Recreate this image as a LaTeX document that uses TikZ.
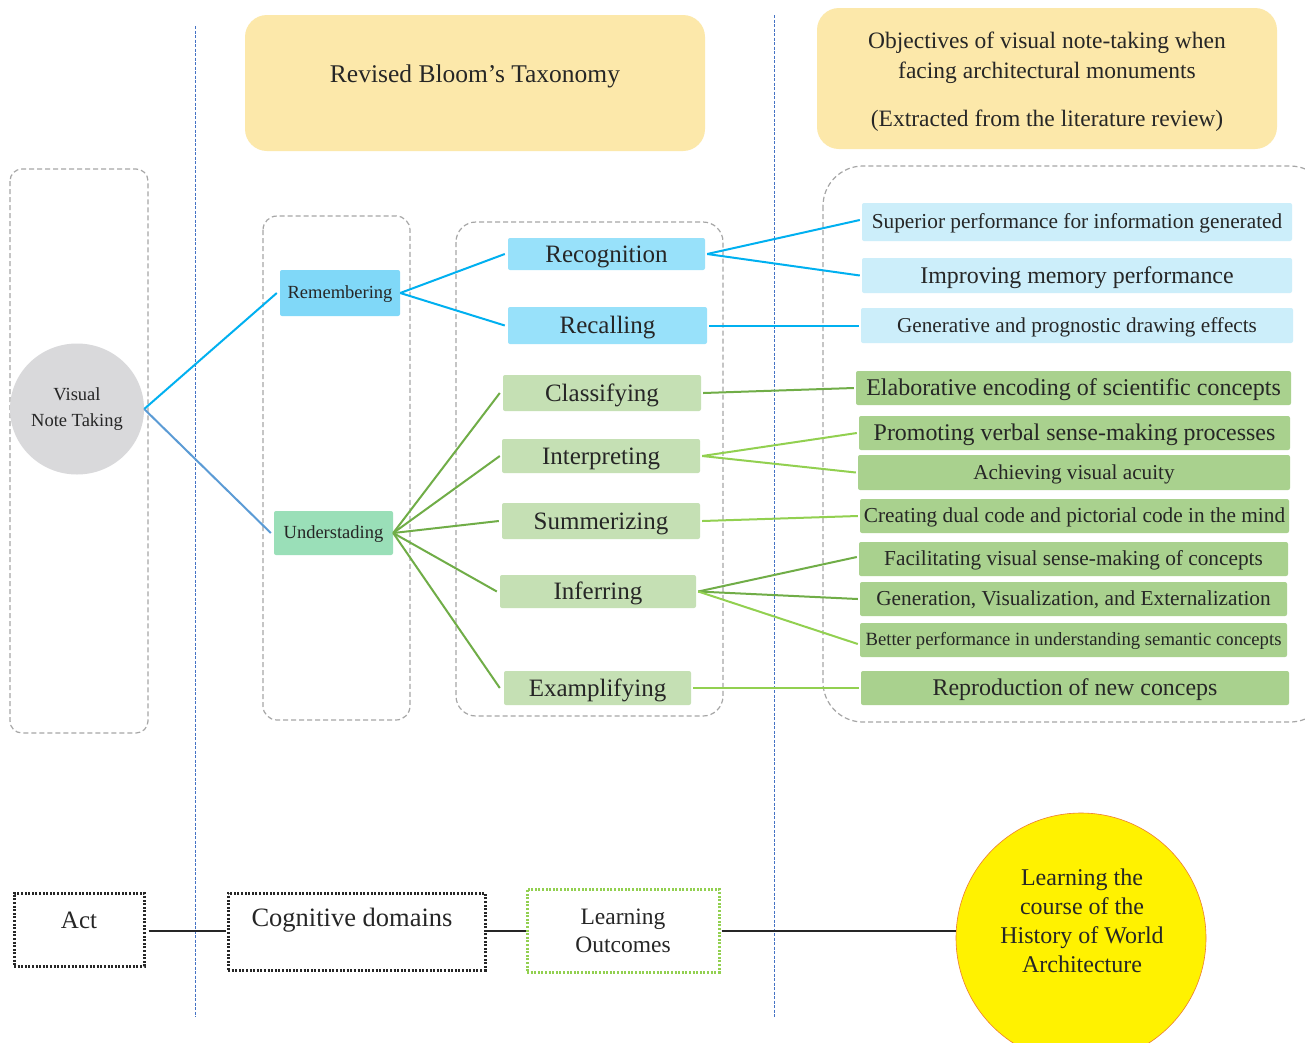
\documentclass[tikz,border=0pt]{standalone}
\usepackage{fontspec}
\setmainfont{Liberation Serif}
\usetikzlibrary{shapes.geometric}
\definecolor{hdr}{RGB}{252,232,170}
\definecolor{dashgray}{RGB}{166,166,166}
\definecolor{vblue}{RGB}{68,114,196}
\definecolor{rem}{RGB}{128,216,248}
\definecolor{und}{RGB}{154,223,184}
\definecolor{midblue}{RGB}{152,225,250}
\definecolor{midgreen}{RGB}{197,224,180}
\definecolor{rblue}{RGB}{204,238,250}
\definecolor{rgreen}{RGB}{169,209,142}
\definecolor{cblue}{RGB}{0,176,240}
\definecolor{cblue2}{RGB}{91,155,213}
\definecolor{dgreen}{RGB}{112,173,71}
\definecolor{lgreen}{RGB}{146,208,80}
\definecolor{circgray}{RGB}{217,217,219}
\definecolor{txt}{RGB}{38,38,38}
\definecolor{corange}{RGB}{237,125,49}
\newcommand{\fs}[1]{\fontsize{#1}{#1}\selectfont}
\tikzset{
  dbox/.style={draw=dashgray,dashed,line width=1.2pt,dash pattern=on 5pt off 3pt},
  fsz/.style={font=\fs{#1},text height={#1*0.68pt},text depth={#1*0.04pt}},
  tb/.style={rectangle,rounded corners=2pt,inner sep=0pt,text=txt,align=center},
  hdrbox/.style={rectangle,rounded corners=22pt,fill=hdr,inner sep=0pt},
  mb/.style={tb,fill=midblue,fsz=25},
  mg/.style={tb,fill=midgreen,fsz=25},
  rb/.style={tb,fill=rblue},
  rg/.style={tb,fill=rgreen},
  lnb/.style={draw=cblue,line width=2pt},
  lnd/.style={draw=dgreen,line width=2pt},
  lnl/.style={draw=lgreen,line width=2pt},
  vline/.style={draw=vblue,line width=0.8pt,dash pattern=on 3pt off 1.5pt},
  dotbox/.style={rectangle,draw=black!85,line width=3pt,dash pattern=on 2pt off 1.6pt,inner sep=0pt},
  blk/.style={draw=black!85,line width=2pt},
  lbl/.style={text=txt,align=center,inner sep=0pt},
}
\begin{document}
\begin{tikzpicture}[x=1pt,y=-1pt]
\clip (0,0) rectangle (1305,1042);
\fill[white] (0,0) rectangle (1305,1042);
% vertical separators
\coordinate (v1t) at (195,26); \coordinate (v1b) at (195,1017);
\coordinate (v2t) at (774,15); \coordinate (v2b) at (774,1017);
\draw[vline] (v1t) -- (v1b);
\draw[vline] (v2t) -- (v2b);
% headers
\node[hdrbox,minimum width=460pt,minimum height=136pt] (bloom) at (475,83) {};
\node[lbl,font=\fs{25.5}] (bloomtxt) at (475,76) {Revised Bloom’s Taxonomy};
\node[hdrbox,minimum width=460pt,minimum height=141pt] (obj) at (1047,78.5) {};
\node[lbl,font=\fontsize{23.5}{30}\selectfont] (objtxt) at (1047,82) {Objectives of visual note-taking when\\facing architectural monuments\\[18pt](Extracted from the literature review)};
% dashed groups
\draw[dbox,rounded corners=12pt] (10,169) rectangle (148,733);
\draw[dbox,rounded corners=14pt] (263,216) rectangle (410,720);
\draw[dbox,rounded corners=20pt] (456,222) rectangle (723,716);
\draw[dbox,rounded corners=40pt] (823,166) rectangle (1330,722);
% circle
\node[ellipse,fill=circgray,minimum width=134pt,minimum height=131pt,inner sep=0pt,text=txt,align=center,font=\fontsize{18.5}{26}\selectfont] (vnt) at (77,409) {Visual\\Note Taking};
% level 1
\node[tb,fill=rem,minimum width=120pt,minimum height=46pt,fsz=18.5] (remb) at (340,293) {Remembering};
\node[tb,fill=und,minimum width=119pt,minimum height=44pt,fsz=18.5] (undr) at (333.5,533) {Understading};
% level 2
\node[mb,minimum width=197pt,minimum height=32pt] (recog) at (606.5,254) {Recognition};
\node[mb,minimum width=199pt,minimum height=37pt] (recal) at (607.5,325.5) {Recalling};
\node[mg,minimum width=198pt,minimum height=36pt] (clas) at (602,393) {Classifying};
\node[mg,minimum width=198pt,minimum height=34pt] (intp) at (601,456) {Interpreting};
\node[mg,minimum width=198pt,minimum height=36pt] (summ) at (601,521) {Summerizing};
\node[mg,minimum width=196pt,minimum height=33pt] (infr) at (598,591.5) {Inferring};
\node[mg,minimum width=187pt,minimum height=34pt] (exmp) at (597.5,688) {Examplifying};
% level 3
\node[rb,minimum width=430pt,minimum height=38pt,fsz=21.3] (sup) at (1077,222) {Superior performance for information generated};
\node[rb,minimum width=430pt,minimum height=35pt,fsz=23.9] (imp) at (1077,275.5) {Improving memory performance};
\node[rb,minimum width=432pt,minimum height=35pt,fsz=21.2] (gen) at (1077,325.5) {Generative and prognostic drawing effects};
\node[rg,minimum width=435pt,minimum height=34pt,fsz=24] (elab) at (1073.5,388) {Elaborative encoding of scientific concepts};
\node[rg,minimum width=431pt,minimum height=34pt,fsz=23.9] (prom) at (1074.5,433) {Promoting verbal sense-making processes};
\node[rg,minimum width=432pt,minimum height=35pt,fsz=21.2] (achv) at (1074,472.5) {Achieving visual acuity};
\node[rg,minimum width=429pt,minimum height=34pt,fsz=21.3] (crea) at (1074.5,516) {Creating dual code and pictorial code in the mind};
\node[rg,minimum width=429pt,minimum height=34pt,fsz=21.3] (faci) at (1073.5,559) {Facilitating visual sense-making of concepts};
\node[rg,minimum width=427pt,minimum height=34pt,fsz=21.3] (genv) at (1073.5,599) {Generation, Visualization, and Externalization};
\node[rg,minimum width=427pt,minimum height=34pt,fsz=18.7] (bett) at (1073.5,640) {Better performance in understanding semantic concepts};
\node[rg,minimum width=428pt,minimum height=34pt,fsz=23.9] (repr) at (1075,688) {Reproduction of new conceps};
% connectors
\draw[lnb] (vnt.east) -- ([xshift=-3pt]remb.west);
\draw[draw=cblue2,line width=2pt] (vnt.east) -- ([xshift=-3pt]undr.west);
\draw[lnb] (remb.east) -- ([xshift=-3pt]recog.west);
\draw[lnb] (remb.east) -- ([xshift=-3pt]recal.west);
\draw[lnd] (undr.east) -- ([xshift=-3pt]clas.west);
\draw[lnd] (undr.east) -- ([xshift=-2pt]intp.west);
\draw[lnd] (undr.east) -- ([xshift=-3pt]summ.west);
\draw[lnd] (undr.east) -- ([xshift=-3pt]infr.west);
\draw[lnd] (undr.east) -- ([xshift=-4pt]exmp.west);
\draw[lnb] ([xshift=2pt]recog.east) -- ([xshift=-2pt,yshift=2pt]sup.west);
\draw[lnb] ([xshift=2pt]recog.east) -- ([xshift=-2pt]imp.west);
\draw[lnb] ([xshift=2pt]recal.east) -- ([xshift=-2pt]gen.west);
\draw[lnd] ([xshift=2pt]clas.east) -- ([xshift=-2pt]elab.west);
\draw[lnl] ([xshift=2pt]intp.east) -- ([xshift=-2pt]prom.west);
\draw[lnl] ([xshift=2pt]intp.east) -- ([xshift=-2pt]achv.west);
\draw[lnl] ([xshift=2pt]summ.east) -- ([xshift=-2pt]crea.west);
\draw[lnd] ([xshift=2pt]infr.east) -- ([xshift=-2pt,yshift=2pt]faci.west);
\draw[lnd] ([xshift=2pt]infr.east) -- ([xshift=-2pt]genv.west);
\draw[lnl] ([xshift=2pt]infr.east) -- ([xshift=-2pt,yshift=-4pt]bett.west);
\draw[lnl] ([xshift=2pt]exmp.east) -- ([xshift=-2pt]repr.west);
% bottom row
\node[dotbox,minimum width=130pt,minimum height=73pt] (act) at (79,929.5) {};
\node[lbl,font=\fs{25}] (acttxt) at (79,920) {Act};
\node[dotbox,minimum width=257pt,minimum height=77pt] (cog) at (356.5,931.5) {};
\node[lbl,font=\fs{26.5}] (cogtxt) at (352,920) {Cognitive domains};
\node[dotbox,draw=lgreen,minimum width=192pt,minimum height=83pt] (lout) at (623,930.5) {};
\node[lbl,font=\fontsize{23.5}{28}\selectfont] (louttxt) at (623,931) {Learning\\Outcomes};
\node[circle,fill=yellow,draw=corange,line width=0.6pt,minimum size=250pt,inner sep=0pt] (goal) at (1081,938) {};
\node[lbl,font=\fontsize{24}{29}\selectfont] (goaltxt) at (1082,921) {Learning the\\course of the\\History of World\\Architecture};
\coordinate (row) at (0,931);
\draw[blk] ([xshift=3pt]act.east |- row) -- ([xshift=-1pt]cog.west |- row);
\draw[blk] (cog.east |- row) -- (lout.west |- row);
\draw[blk] ([xshift=1pt]lout.east |- row) -- (goal.west |- row);
\end{tikzpicture}
\end{document}
